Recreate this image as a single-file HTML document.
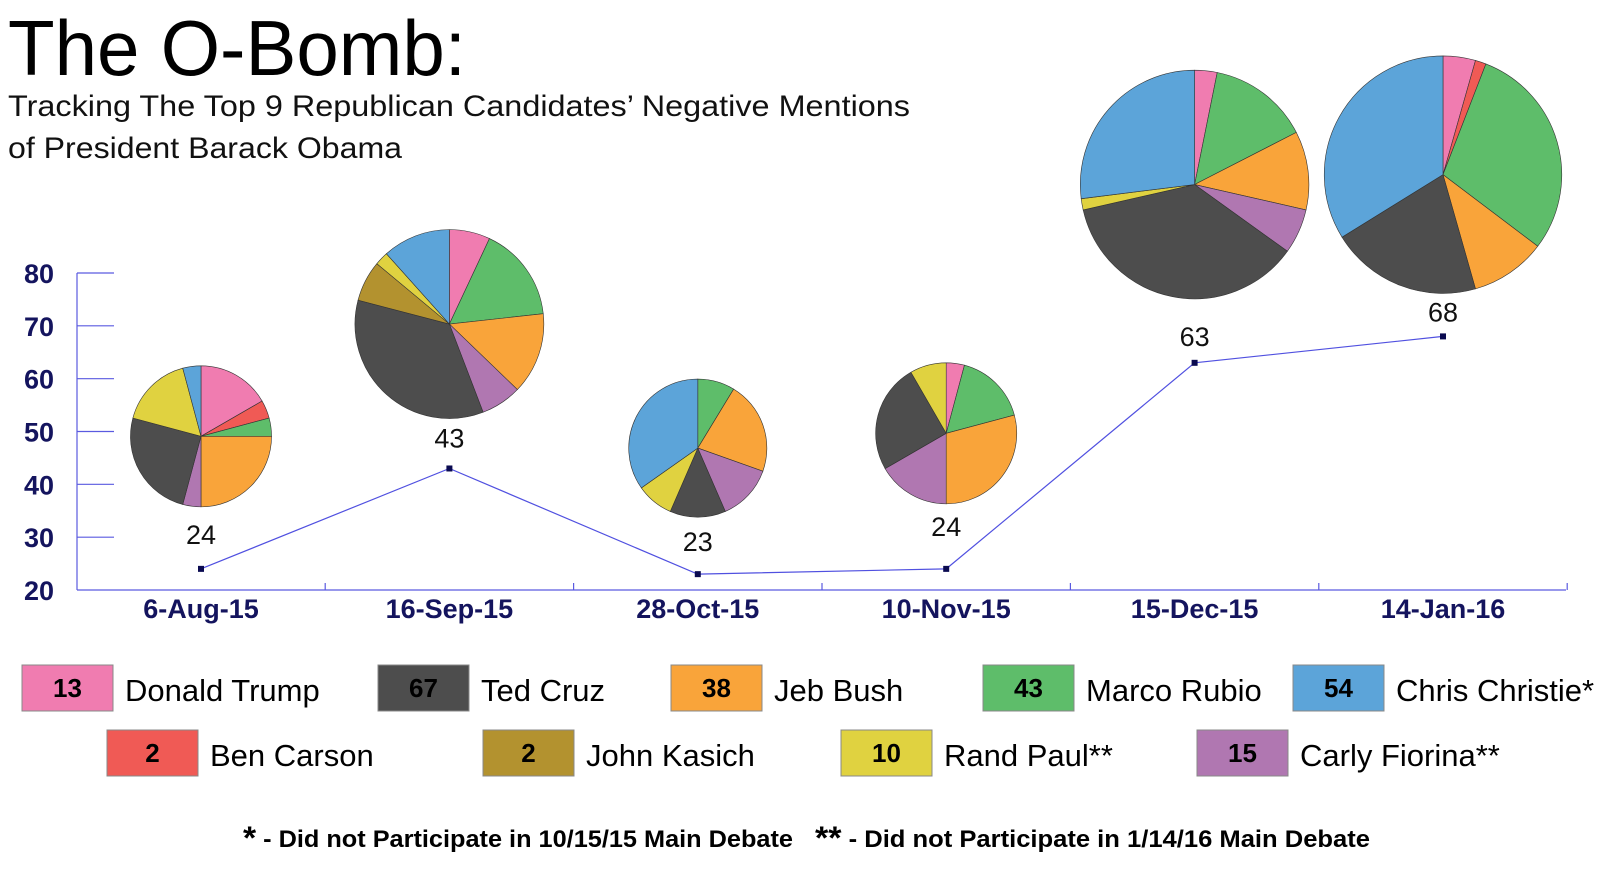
<!DOCTYPE html>
<html><head><meta charset="utf-8"><style>
html,body{margin:0;padding:0;background:#fff;}
svg{display:block;font-family:"Liberation Sans",sans-serif;}
</style></head><body>
<svg id="chart" width="1600" height="887" viewBox="0 0 1600 887" xmlns="http://www.w3.org/2000/svg">
<text x="8" y="75" font-size="78" fill="#000" textLength="458" lengthAdjust="spacingAndGlyphs">The O-Bomb:</text>
<text x="8" y="116" font-size="30" fill="#111" textLength="902" lengthAdjust="spacingAndGlyphs">Tracking The Top 9 Republican Candidates’ Negative Mentions</text>
<text x="8" y="158" font-size="30" fill="#111" textLength="394" lengthAdjust="spacingAndGlyphs">of President Barack Obama</text>
<g id="axes"></g>
<g id="line"></g>
<g id="pies"></g>
<g id="legend"></g>
<g font-weight="bold" fill="#000">
<text x="243" y="847" font-size="24" textLength="550" lengthAdjust="spacingAndGlyphs"><tspan font-size="32" dy="2">*</tspan><tspan dy="-2"> - Did not Participate in 10/15/15 Main Debate</tspan></text>
<text x="815" y="847" font-size="24" textLength="555" lengthAdjust="spacingAndGlyphs"><tspan font-size="32" dy="2">**</tspan><tspan dy="-2"> - Did not Participate in 1/14/16 Main Debate</tspan></text>
</g>
</svg>
<script>
// ---- data ----
const dates = ["6-Aug-15","16-Sep-15","28-Oct-15","10-Nov-15","15-Dec-15","14-Jan-16"];
const totals = [24,43,23,24,63,68];
const yTicks = [20,30,40,50,60,70,80];
// slice order (clockwise from 12 o'clock): Trump, Carson, Rubio, Bush, Fiorina, Cruz, Kasich, Paul, Christie
const sliceNames = ["Donald Trump","Ben Carson","Marco Rubio","Jeb Bush","Carly Fiorina","Ted Cruz","John Kasich","Rand Paul","Chris Christie"];
const pieAug = [4,1,1,6,1,6,0,4,1];
const pieSep = [3,0,7,6,3,15,3,1,5];
const pieOct = [0,0,2,5,3,3,0,2,8];
const pieNov = [1,0,4,7,4,6,0,2,0];
const pieDec = [2,0,9,7,4,23,0,1,17];
const pieJan = [3,1,20,7,0,14,0,0,23];
const legendNames = ["Donald Trump","Ted Cruz","Jeb Bush","Marco Rubio","Chris Christie*","Ben Carson","John Kasich","Rand Paul**","Carly Fiorina**"];
const legendTotals = [13,67,38,43,54,2,2,10,15];

// ---- styles/layout ----
const pieSets = [pieAug,pieSep,pieOct,pieNov,pieDec,pieJan];
const sliceColors = ["#f07cb0","#f05a55","#5ebd6a","#f9a43a","#b077b1","#4d4d4d","#b3922f","#e0d240","#5ca4d9"];
const legendColors = ["#f07cb0","#4d4d4d","#f9a43a","#5ebd6a","#5ca4d9","#f05a55","#b3922f","#e0d240","#b077b1"];
const pieGap = [62,50,57,65,64,43];
const labelLift = [25,21,23,33,17,15];
const NS="http://www.w3.org/2000/svg";
function mk(tag, attrs, parent){const e=document.createElementNS(NS,tag);for(const k in attrs)e.setAttribute(k,attrs[k]);parent.appendChild(e);return e;}
const x0=201, xStep=248.4, axisX=77, axisEnd=1566;
function xs(i){return x0+i*xStep;}
function ys(v){return 590-(v-20)*(317/60);}

const axes=document.getElementById('axes');
let e=mk('line',{x1:axisX,y1:ys(20),x2:axisX,y2:ys(80),stroke:'#5a5ae0','stroke-width':1.2},axes);


e=mk('line',{x1:axisX,y1:ys(20),x2:axisEnd,y2:ys(20),stroke:'#5a5ae0','stroke-width':1.2},axes);


yTicks.forEach(v=>{
  if(v>20){const t=mk('line',{x1:axisX,y1:ys(v),x2:114,y2:ys(v),stroke:'#5a5ae0','stroke-width':1.2},axes);
  
  }
  const l=mk('text',{x:54,y:ys(v)+10,'text-anchor':'end','font-size':27,'font-weight':'bold',fill:'#14145e'},axes);
  l.textContent=v;
  
  
});
dates.forEach((d,i)=>{
  const t=mk('line',{x1:xs(i)+xStep/2,y1:ys(20),x2:xs(i)+xStep/2,y2:ys(20)-7,stroke:'#5a5ae0','stroke-width':1.2},axes);
  
  
  const l=mk('text',{x:xs(i),y:618,'text-anchor':'middle','font-size':27,'font-weight':'bold',fill:'#14145e'},axes);
  l.textContent=d;
  
  
});

const lineG=document.getElementById('line');
const pl=mk('polyline',{points:totals.map((v,i)=>xs(i)+','+ys(v)).join(' '),fill:'none',stroke:'#5050e0','stroke-width':1.2},lineG);


totals.forEach((v,i)=>{
  const p=mk('rect',{x:xs(i)-3,y:ys(v)-3,width:6,height:6,fill:'#0a0a50'},lineG);
  
  
  const l=mk('text',{x:xs(i),y:ys(v)-labelLift[i],'text-anchor':'middle','font-size':27,fill:'#111'},lineG);
  l.textContent=v;
  
  
});

const pies=document.getElementById('pies');
pieSets.forEach((vals,i)=>{
  const sum=vals.reduce((a,b)=>a+b,0);
  const r=14.4*Math.sqrt(sum);
  const cx=xs(i), cy=ys(totals[i])-pieGap[i]-r;
  const g=mk('g',{},pies);
  
  
  let a=0;
  vals.forEach((v,k)=>{
    if(v<=0)return;
    const a1=a, a2=a+v/sum*2*Math.PI; a=a2;
    const x1=cx+r*Math.sin(a1), y1=cy-r*Math.cos(a1), x2=cx+r*Math.sin(a2), y2=cy-r*Math.cos(a2);
    const large=(a2-a1)>Math.PI?1:0;
    const s=mk('path',{d:`M${cx},${cy} L${x1},${y1} A${r},${r} 0 ${large} 1 ${x2},${y2} Z`,fill:sliceColors[k],stroke:'#333','stroke-width':0.6},g);
    
    
  });
});

const legend=document.getElementById('legend');
const rowBoxX=[[22,378,671,983,1293],[107,483,841,1197]];
let idx=0;
rowBoxX.forEach((row,ri)=>{
  const top=ri===0?665:730;
  row.forEach(bx=>{
    const g=mk('g',{},legend);
    
    
    const b=mk('rect',{x:bx,y:top,width:91,height:46,fill:legendColors[idx],stroke:'#888','stroke-width':1},g);
    
    
    const n=mk('text',{x:bx+45.5,y:top+32,'text-anchor':'middle','font-size':26,'font-weight':'bold',fill:'#000'},g);
    n.textContent=legendTotals[idx];
    
    
    const t=mk('text',{x:bx+103,y:top+36,'font-size':31,fill:'#000'},g);
    t.textContent=legendNames[idx];
    
    
    idx++;
  });
});
</script>
</body></html>
